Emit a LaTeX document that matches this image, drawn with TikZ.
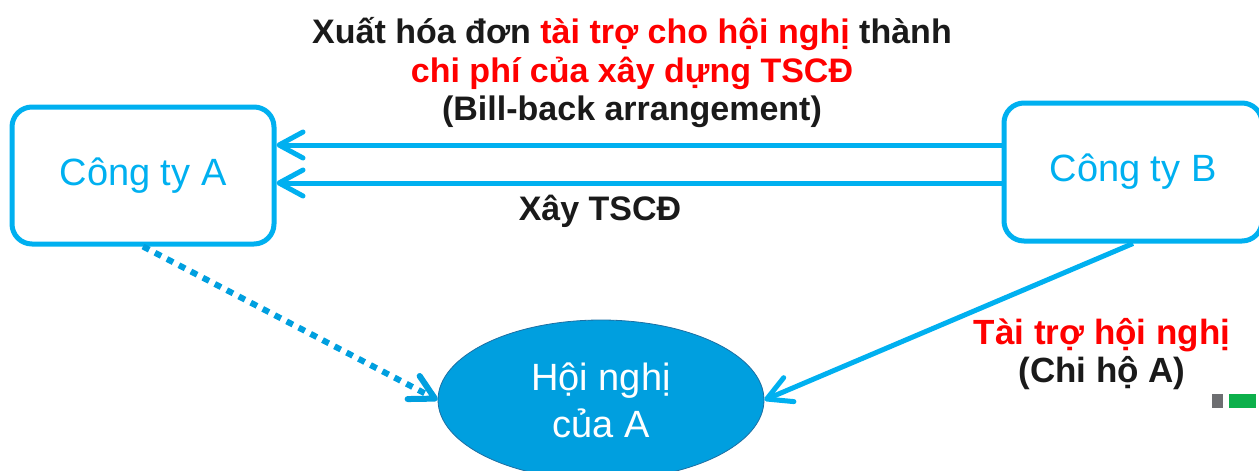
\documentclass[tikz,border=0pt]{standalone}
\usepackage{fontspec}
\setmainfont{Liberation Sans}
\usetikzlibrary{shapes.geometric,arrows.meta}
\definecolor{cyanline}{HTML}{00B0F0}
\definecolor{dotblue}{HTML}{009FDF}
\definecolor{confblue}{HTML}{009FDF}
\definecolor{confedge}{HTML}{1D6FA3}
\definecolor{darktext}{HTML}{1A1A1A}
\definecolor{redtext}{HTML}{FF0000}
\definecolor{markgray}{HTML}{6D6E71}
\definecolor{markgreen}{HTML}{0DB04B}
\tikzset{
  company/.style={draw=cyanline,line width=5pt,rounded corners=20pt,fill=white,
    text=cyanline,font=\fontsize{38}{44}\selectfont},
  flow/.style={draw=cyanline,line width=5pt,-{Straight Barb[length=24pt,width=26pt,round]}},
  label/.style={text=darktext,font=\bfseries\fontsize{34}{38.5}\selectfont,align=center,inner sep=0pt}
}
\begin{document}
\begin{tikzpicture}[x=1pt,y=-1pt]
\useasboundingbox (0,0) rectangle (1259,471);
\begin{scope}
\clip (0,0) rectangle (1259,471);
\node[company,minimum width=262pt,minimum height=137pt] (A) at (143,175.5) {Công ty A};
\node[company,minimum width=258pt,minimum height=138pt] (B) at (1133,172) {Công ty B};
\node[ellipse,draw=confedge,line width=0.8pt,fill=confblue,text=white,align=center,
  minimum width=326pt,minimum height=160pt,inner sep=0pt,
  font=\fontsize{38}{47}\selectfont] (conf) at (601,400) {Hội nghị\\của A};
\end{scope}
\draw[flow] ([yshift=27pt]B.west) -- ([yshift=27pt]B.west -| A.east);
\draw[flow] ([yshift=-11pt]B.west) -- ([yshift=-11pt]B.west -| A.east);
\draw[flow] (B.south) -- (conf.east);
\draw[flow,draw=dotblue,line width=6pt,dash pattern=on 7pt off 6.5pt] (A.south) -- (conf.west);
\node[label] (title) at (632,73) {Xuất hóa đơn \textcolor{redtext}{tài trợ cho hội nghị} thành\\
  \textcolor{redtext}{chi phí của xây dựng TSCĐ}\\(Bill-back arrangement)};
\node[label] (build) at (600,211) {Xây TSCĐ};
\node[label,font=\bfseries\fontsize{35}{38.5}\selectfont] (fund) at (1102,354) {\textcolor{redtext}{Tài trợ hội nghị}\\(Chi hộ A)};
\fill[markgray] (1212,394) rectangle (1223,408);
\fill[markgreen] (1229,394) rectangle (1256,408);
\end{tikzpicture}
\end{document}
